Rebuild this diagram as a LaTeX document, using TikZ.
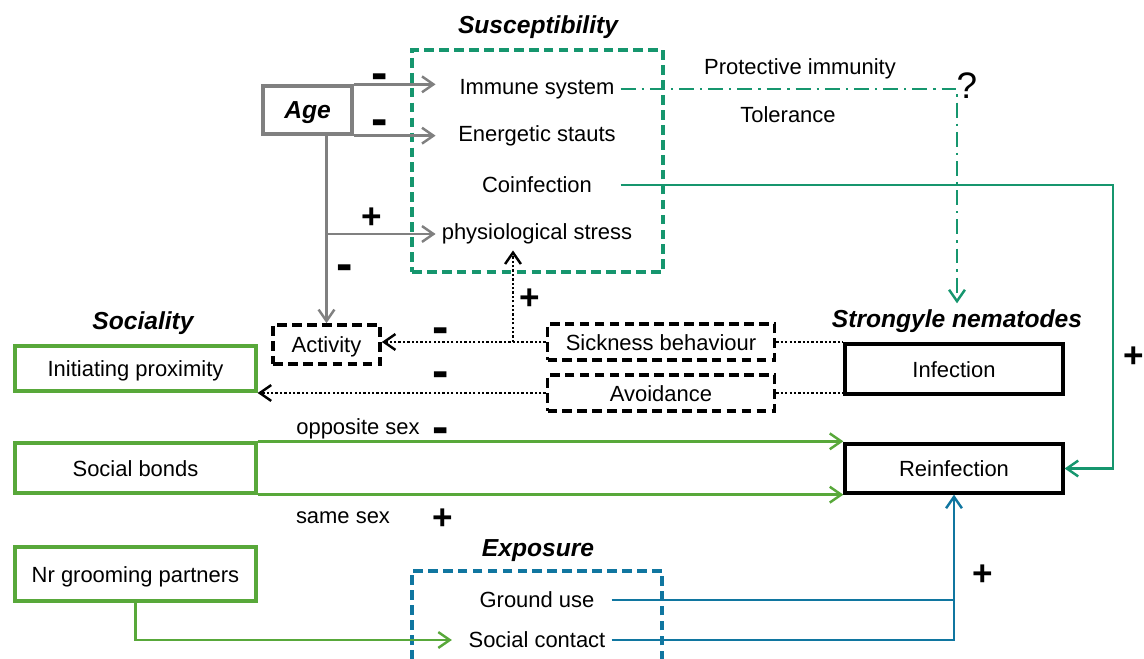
\documentclass[tikz,border=0pt]{standalone}
\usepackage{fontspec}
\setmainfont{Liberation Sans}
\usepackage{tikz}
\usetikzlibrary{arrows.meta,positioning,calc}
\definecolor{suscgreen}{RGB}{22,150,110}
\definecolor{socgreen}{RGB}{88,168,58}
\definecolor{expblue}{RGB}{16,118,160}
\definecolor{agegray}{RGB}{128,128,128}

\begin{document}
\begin{tikzpicture}
[x=0.02cm,y=-0.02cm,>={Straight Barb[length=6.5pt,width=9pt,line width=1.4pt]},
every node/.style={font=\fontsize{12.5}{15}\selectfont},
headtxt/.style={font=\fontsize{14}{16}\selectfont\bfseries\itshape},
minussign/.style={font=\fontsize{14}{14}\selectfont\bfseries,inner sep=0pt,yshift=-0.14cm},
plussign/.style={font=\fontsize{20}{20}\selectfont\bfseries,inner sep=0pt,yshift=-0.04cm},
solidbox/.style={draw,line width=1.9pt,inner sep=0pt,text height=0.92em,text depth=0pt},
dashbox/.style={draw,line width=2.1pt,dash pattern=on 5.5pt off 3pt,inner sep=0pt,text height=0.92em,text depth=0pt},
link/.style={line width=1.6pt},
dotline/.style={line width=1.5pt,dash pattern=on 1.3pt off 1.2pt},
dashdot/.style={line width=1.5pt,dash pattern=on 8.5pt off 3.4pt on 1.3pt off 3.4pt}]

\useasboundingbox (0,0) rectangle (1144,659);

\node (susc) at (538,27)[headtxt] {Susceptibility};
\node (suscbox) at (537.5,161)[dashbox,suscgreen,minimum width=5.02cm,minimum height=4.44cm] {};
\node (imm) at (537,89) {Immune system};
\node (ener) at (537,136) {Energetic stauts};
\node (coinf) at (537,185) {Coinfection};
\node (phys) at (537,234) {physiological stress};
\node (protect) at (800,69) {Protective immunity};
\node (toler) at (788,115) {Tolerance};
\node (quest) at (967,86)[font=\fontsize{21}{21}\selectfont] {?};

\node (age) at (307.5,110)[solidbox,agegray,text=black,font=\fontsize{14}{16}\selectfont\bfseries\itshape,
minimum width=1.78cm,minimum height=0.96cm] {Age};

\node (soc) at (143,323)[headtxt] {Sociality};
\node (strong) at (957,321)[headtxt] {Strongyle nematodes};
\node (expo) at (538,551)[headtxt] {Exposure};

\node (activity) at (326.5,344.5)[dashbox,minimum width=2.14cm,minimum height=0.78cm] {Activity};
\node (sick) at (661,342)[dashbox,minimum width=4.54cm,minimum height=0.72cm] {Sickness behaviour};
\node (avoid) at (661,393)[dashbox,minimum width=4.54cm,minimum height=0.72cm] {Avoidance};
\node (infection) at (954,369)[solidbox,minimum width=4.36cm,minimum height=1.0cm] {Infection};
\node (reinf) at (954,468.5)[solidbox,minimum width=4.36cm,minimum height=0.98cm] {Reinfection};

\node (prox) at (135.5,368.5)[solidbox,socgreen,text=black,minimum width=4.82cm,minimum height=0.9cm] {Initiating proximity};
\node (bonds) at (135.5,468)[solidbox,socgreen,text=black,minimum width=4.82cm,minimum height=1.0cm] {Social bonds};
\node (groom) at (135.5,574)[solidbox,socgreen,text=black,minimum width=4.82cm,minimum height=1.08cm] {Nr grooming partners};
\node (oppo) at (358,429) {opposite sex};
\node (same) at (343,518) {same sex};

\node (expbox) at (537,640)[dashbox,expblue,minimum width=5.0cm,minimum height=2.76cm] {};
\node (ground) at (537,600) {Ground use};
\node (social) at (537,640) {Social contact};

\node (minimm) at (380,75)[minussign] {\scalebox{2}{-}};
\node (minener) at (380,121)[minussign] {\scalebox{2}{-}};
\node (plusphys) at (372,216)[plussign] {+};
\node (minact) at (345,266)[minussign] {\scalebox{2}{-}};
\node (plussick) at (530,297)[plussign] {+};
\node (minsick) at (441,329)[minussign] {\scalebox{2}{-}};
\node (minavoid) at (441,373)[minussign] {\scalebox{2}{-}};
\node (minoppo) at (441,429)[minussign] {\scalebox{2}{-}};
\node (plussame) at (443,517)[plussign] {+};
\node (plusreinf) at (1134,355)[plussign] {+};
\node (plusexp) at (983,573)[plussign] {+};

\draw[link,agegray,->] (age.north east) -- (age.north east -| phys.west);
\draw[link,agegray,->] (age.south east) -- (age.south east -| phys.west);
\draw[link,agegray,->] (age.south -| activity.north) -- (activity.north);
\draw[link,agegray,->] (activity.north |- phys) -- (phys.west);

\draw[dashdot,suscgreen,->] (imm.east) -| (strong.north);
\coordinate (coinfbend) at (1113,0);
\draw[link,suscgreen,->] (imm.east |- coinf) -| (coinfbend |- reinf.east) -- (reinf.east);

\draw[dotline,->] (sick.west) -- (sick.west -| activity.east);
\coordinate (stressup) at (513,342);
\draw[dotline,->] (stressup) -- (stressup |- phys.south);
\draw[dotline,->] (avoid.west) -- (avoid.west -| prox.east);
\draw[dotline] (sick.east) -- (sick.east -| infection.west);
\draw[dotline] (avoid.east) -- (avoid.east -| infection.west);

\draw[link,socgreen,->] (bonds.north east) -- (bonds.north east -| reinf.west);
\draw[link,socgreen,->] (bonds.south east) -- (bonds.south east -| reinf.west);
\draw[link,socgreen,->,shorten >=6pt] (groom.south) |- (social.west);

\draw[link,expblue] (social.east |- ground) -- (ground -| reinf.south);
\draw[link,expblue,->] (social.east) -| (reinf.south);

\end{tikzpicture}
\end{document}
